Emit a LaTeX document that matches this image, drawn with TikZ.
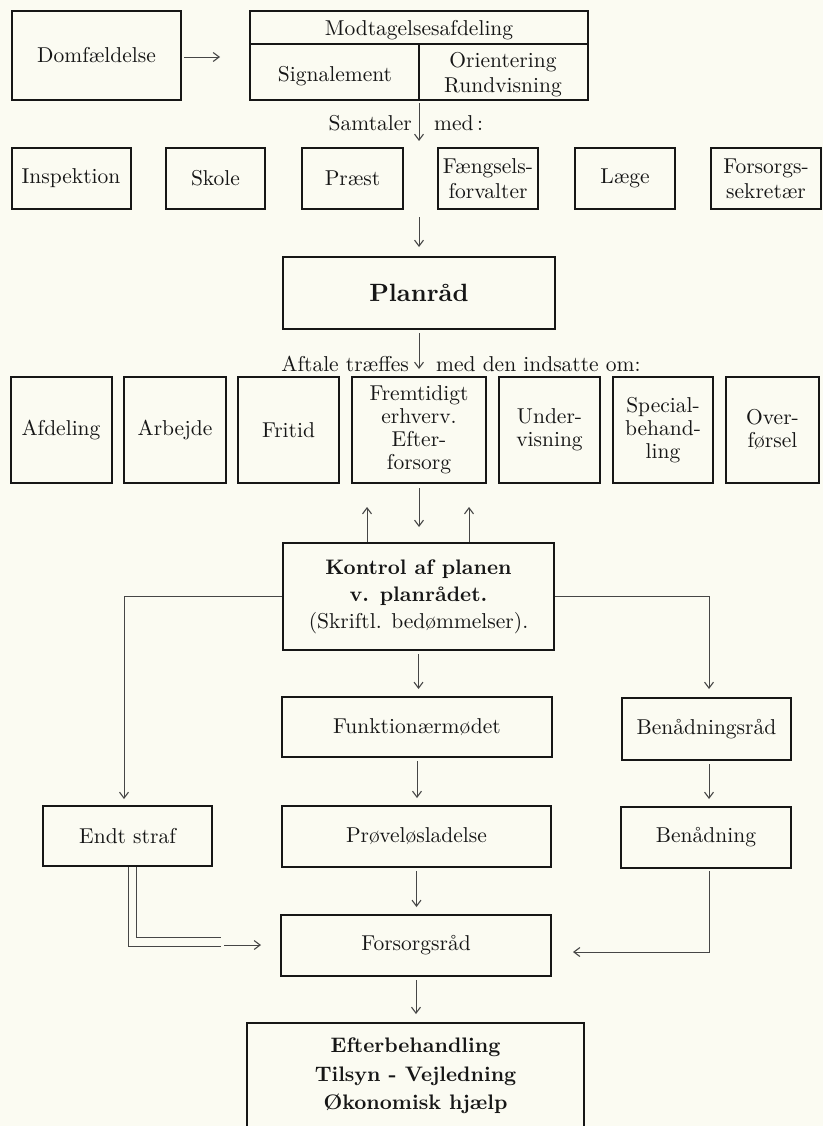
\documentclass[tikz,border=0pt]{standalone}
\usepackage{fontspec}
\setmainfont{lmroman10-regular.otf}[BoldFont=lmroman10-bold.otf, ItalicFont=lmroman10-italic.otf]
\usetikzlibrary{arrows.meta}
\definecolor{paper}{RGB}{251,251,242}
\definecolor{ink}{RGB}{22,22,22}
\definecolor{thin}{RGB}{70,70,70}
\tikzset{
  box/.style={draw=ink, line width=2pt, inner sep=0pt, align=center, text=ink, font=\fontsize{21.5}{25}\selectfont},
  conn/.style={draw=thin, line width=0.85pt},
  arr/.style={conn, -{Straight Barb[length=6pt,width=9pt,line width=1.1pt]}},
  sarr/.style={arr, shorten >=7pt, shorten <=3pt},
  lbl/.style={inner sep=0pt, text=ink, align=center, font=\fontsize{21.5}{25}\selectfont},
}
\begin{document}
\begin{tikzpicture}[x=1pt,y=-1pt]
\useasboundingbox (0,0) rectangle (823,1126);
\fill[paper] (0,0) rectangle (823,1126);
\clip (0,0) rectangle (823,1126);

% row 1
\node[box, minimum width=169pt, minimum height=89pt] (dom) at (96.5,55.5) {Domfældelse};
\node[box, minimum width=338pt, minimum height=89pt] (modt) at (419,55.5) {};
\coordinate (mdiv) at (419,44);
\draw[draw=ink, line width=1.2pt] (modt.west |- mdiv) -- (modt.east |- mdiv);
\draw[draw=ink, line width=1.2pt] (mdiv) -- (modt.south);
\node[lbl] (modtt) at (419,30) {Modtagelsesafdeling};
\node[lbl] (sign) at (335,76) {Signalement};
\node[lbl] (orient) at (503,75) {Orientering\\Rundvisning};
\coordinate (domtip) at (220,57);
\draw[arr, shorten <=2pt] (dom.east |- domtip) -- (domtip);

% Samtaler
\coordinate (s1) at (419,141);
\draw[arr, shorten <=2pt] (modt.south) -- (s1);
\node[lbl, anchor=base east] (samt) at (412,131) {Samtaler};
\node[lbl, anchor=base west] (samm) at (434,131) {med\,:};

% row 2
\node[box, minimum width=119pt, minimum height=61pt] (insp) at (71,178.5) {Inspektion};
\node[box, minimum width=99pt, minimum height=61pt] (skole) at (215.5,178.5) {Skole};
\node[box, minimum width=101pt, minimum height=61pt] (praest) at (352.5,178.5) {Præst};
\node[box, minimum width=100pt, minimum height=61pt] (faeng) at (488,178.5) {Fængsels-\\forvalter};
\node[box, minimum width=100pt, minimum height=61pt] (laege) at (625,178.5) {Læge};
\node[box, minimum width=110pt, minimum height=61pt] (forss) at (766,178.5) {Forsorgs-\\sekretær};

% Planraad
\node[box, minimum width=272pt, minimum height=72pt, font=\bfseries\fontsize{25}{30}\selectfont] (plan) at (419,293) {Planråd};
\coordinate (s2) at (419,217);
\draw[arr, shorten >=9pt] (s2) -- (s2 |- plan.north);

% row 3
\node[box, minimum width=101pt, minimum height=106pt] (afd) at (61,430) {Afdeling};
\node[box, minimum width=102pt, minimum height=106pt] (arb) at (175,430) {Arbejde};
\node[box, minimum width=101pt, minimum height=106pt] (frit) at (288.5,430) {Fritid};
\node[box, minimum width=134pt, minimum height=106pt, font=\fontsize{21.5}{23}\selectfont] (frem) at (419,430) {Fremtidigt\\erhverv.\\Efter-\\forsorg};
\node[box, minimum width=101pt, minimum height=106pt, font=\fontsize{21.5}{23}\selectfont] (under) at (549.5,430) {Under-\\visning};
\node[box, minimum width=100pt, minimum height=106pt, font=\fontsize{21.5}{23}\selectfont] (spec) at (663,430) {Special-\\behand-\\ling};
\node[box, minimum width=93pt, minimum height=106pt, font=\fontsize{21.5}{23}\selectfont] (over) at (772.5,430) {Over-\\førsel};
\draw[arr, shorten <=3pt, shorten >=7pt] (plan.south) -- (plan.south |- frem.north);
\node[lbl, anchor=base east] (aft) at (409,371) {Aftale træffes};
\node[lbl, anchor=base west] (aftm) at (436,371) {med den indsatte om:};

% Kontrol
\node[box, minimum width=271pt, minimum height=107pt, font=\fontsize{21.5}{27}\selectfont] (kontrol) at (418.5,596.5) {{\bfseries\fontsize{21}{27}\selectfont Kontrol af planen}\\{\bfseries\fontsize{21}{27}\selectfont v. planrådet.}\\(Skriftl. bedømmelser).};
\coordinate (u1) at (367,507);
\coordinate (u2) at (469,507);
\draw[arr] (kontrol.north -| u1) -- (u1);
\draw[arr] (kontrol.north -| u2) -- (u2);
\draw[arr, shorten <=4pt, shorten >=15pt] (frem.south) -- (frem.south |- kontrol.north);

% lower boxes
\node[box, minimum width=270pt, minimum height=60pt] (funk) at (417,727) {Funktionærmødet};
\node[box, minimum width=169pt, minimum height=62pt] (benr) at (706.5,729) {Benådningsråd};
\node[box, minimum width=169pt, minimum height=60pt] (endt) at (127.5,836) {Endt straf};
\node[box, minimum width=269pt, minimum height=61pt] (prove) at (416.5,836.5) {Prøveløsladelse};
\node[box, minimum width=170pt, minimum height=61pt] (bena) at (706,837.5) {Benådning};
\node[box, minimum width=270pt, minimum height=61pt] (forsr) at (416,945.5) {Forsorgsråd};
\node[box, minimum width=337pt, minimum height=106pt, font=\bfseries\fontsize{21}{28.5}\selectfont] (efter) at (415.5,1076) {Efterbehandling\\Tilsyn - Vejledning\\Økonomisk hjælp};

% connectors
\draw[sarr] (kontrol.south) -- (kontrol.south |- funk.north);
\coordinate (lc) at (124,596.5);
\draw[arr, shorten >=6pt] (kontrol.west) -- (lc) -- (lc |- endt.north);
\coordinate (rc) at (709,596.5);
\draw[arr, shorten >=8pt] (kontrol.east) -- (rc) -- (rc |- benr.north);
\draw[sarr] (funk.south) -- (funk.south |- prove.north);
\draw[sarr] (benr.south -| rc) -- (rc |- bena.north);
\draw[sarr] (prove.south) -- (prove.south |- forsr.north);
\draw[sarr, shorten >=8pt] (forsr.south) -- (forsr.south |- efter.north);

\coordinate (e1) at (128,946);
\coordinate (e2) at (136,937);
\coordinate (e3) at (221,946);
\coordinate (e4) at (221,937);
\draw[conn] (endt.south -| e1) -- (e1) -- (e3);
\draw[conn] (endt.south -| e2) -- (e2) -- (e4);
\coordinate (ea) at (224,945);
\draw[arr, shorten >=19pt] (ea) -- (ea -| forsr.west);

\coordinate (bc) at (709,952);
\draw[arr, shorten <=2pt, shorten >=21pt] (bena.south -| bc) -- (bc) -- (bc -| forsr.east);
\end{tikzpicture}
\end{document}
